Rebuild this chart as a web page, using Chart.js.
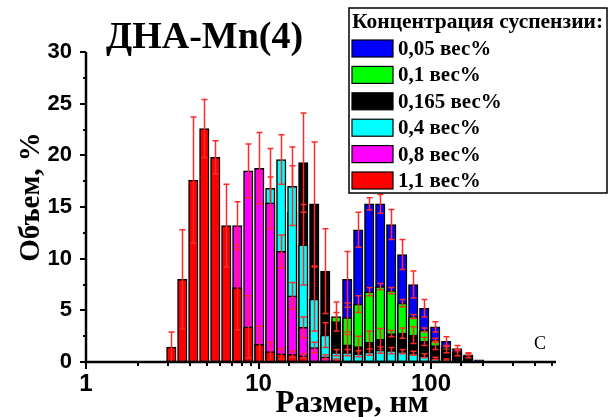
<!DOCTYPE html>
<html>
<head>
<meta charset="utf-8">
<script src="https://cdn.jsdelivr.net/npm/chart.js@4/dist/chart.umd.min.js"></script>
<style>
  html, body { margin: 0; padding: 0; background: #fff; }
</style>
</head>
<body>
<canvas id="sizeChart" width="613" height="417"></canvas>
<script>
// DLS size bins, nm
var sizes = [3.122, 3.615, 4.187, 4.849, 5.615, 6.503, 7.531, 8.721, 10.1, 11.7,
             13.54, 15.69, 18.17, 21.04, 24.36, 28.21, 32.67, 37.84, 43.82, 50.75,
             58.77, 68.06, 78.82, 91.28, 105.7, 122.4, 141.8, 164.2, 190.1];

// volume, % (null = no bar)
var vol005 = [null, null, null, null, null, null, null, null, null, null,
              null, null, null, null, null, null, 8.0, 12.8, 15.3, 15.3,
              13.3, 10.4, 7.5, 5.2, 3.4, 2.0, 1.3, 0.7, 0.2];
var err005 = [0, 0, 0, 0, 0, 0, 0, 0, 0, 0,
              0, 0, 0, 0, 0, 0, 2.7, 1.7, 0.6, 0.9,
              1.45, 1.45, 1.3, 0.85, 0.5, 0.45, 0.3, 0.2, 0];

var vol01 = [null, null, null, null, null, null, null, null, null, null,
             null, null, null, null, null, 4.4, 4.3, 5.6, 6.8, 7.3,
             6.9, 5.7, 4.4, 3.1, 2.1, 1.4, 1.0, 0.5, null];
var err01 = [0, 0, 0, 0, 0, 0, 0, 0, 0, 0,
             0, 0, 0, 0, 0, 1.4, 1.4, 0.8, 0.4, 0.3,
             0.3, 0.35, 0.2, 0.2, 0.2, 0.2, 0.15, 0.1, 0];

var vol0165 = [null, null, null, null, null, null, null, null, null, null,
               null, 14.5, 19.3, 15.3, 8.8, 3.9, 1.65, 1.5, 1.9, 2.2,
               2.75, 2.8, 2.6, 2.0, 1.6, 1.2, 0.9, 0.6, null];
var err0165 = [0, 0, 0, 0, 0, 0, 0, 0, 0, 0,
               0, 4.5, 4.8, 6.0, 4.1, 0.9, 1.0, 1.0, 1.1, 1.05,
               0.3, 0.5, 0.8, 0.4, 0.4, 0.3, 0.3, 0.2, 0];

var vol04 = [null, null, null, null, null, null, null, null, null, 16.8,
             19.6, 17.0, 11.35, 6.1, 2.6, 0.9, 0.9, 0.8, 0.95, 1.15,
             1.1, 1.0, 0.85, 0.6, 0.35, 0.2, null, null, null];
var err04 = [0, 0, 0, 0, 0, 0, 0, 0, 0, 3.85,
             2.4, 3.8, 3.9, 3.1, 1.2, 0.3, 0.3, 0.3, 0.3, 0.3,
             0.3, 0.2, 0.2, 0.2, 0.1, 0.1, 0, 0, 0];

var vol08 = [null, null, null, null, null, null, 13.2, 18.5, 18.75, 15.4,
             10.7, 6.4, 3.35, 1.4, 0.5, 0.2, null, null, null, null,
             null, null, null, null, null, null, null, null, null];
var err08 = [0, 0, 0, 0, 0, 0, 2.3, 2.6, 3.45, 2.5,
             1.6, 1.3, 1.0, 0.5, 0.2, 0.1, 0, 0, 0, 0,
             0, 0, 0, 0, 0, 0, 0, 0, 0];

var vol11 = [1.45, 8.0, 17.6, 22.6, 19.8, 13.2, 7.2, 3.4, 1.7, 1.0,
             0.8, 0.75, 0.6, null, null, null, null, null, null, null,
             null, null, null, null, null, null, null, null, null];
var err11 = [1.45, 4.8, 6.1, 2.8, 1.6, 4.0, 4.1, 3.0, 1.75, 0.9,
             0.5, 0.3, 0.2, 0, 0, 0, 0, 0, 0, 0,
             0, 0, 0, 0, 0, 0, 0, 0, 0];

var seriesLabels = ['0,05 вес%', '0,1 вес%', '0,165 вес%', '0,4 вес%', '0,8 вес%', '1,1 вес%'];
var seriesColors = ['#0000ff', '#00ff00', '#000000', '#00ffff', '#ff00ff', '#ff0000'];
var seriesValues = [vol005, vol01, vol0165, vol04, vol08, vol11];
var seriesErrors = [err005, err01, err0165, err04, err08, err11];

var yMajor = [0, 5, 10, 15, 20, 25, 30];
var xMajor = [1, 10, 100];

var serif = '"Liberation Serif", "Times New Roman", serif';
var sans = '"Liberation Sans", Arial, sans-serif';

var datasets = seriesValues.map(function (vals, k) {
  return {
    label: seriesLabels[k],
    data: sizes.map(function (s, i) { return { x: s, y: vals[i] }; }),
    errors: seriesErrors[k],
    backgroundColor: seriesColors[k],
    borderColor: '#000',
    borderWidth: 1.5,
    borderSkipped: false,
    grouped: false,
    order: seriesValues.length - 1 - k,   // 1,1 % in front, 0,05 % at the back
    barThickness: 9.5
  };
});

// red error bars, drawn right after their own series
var errorBars = {
  id: 'errorBars',
  afterDatasetDraw: function (chart, args) {
    var ds = chart.data.datasets[args.index];
    var yScale = chart.scales.y;
    var ctx = chart.ctx;
    ctx.save();
    ctx.strokeStyle = '#ff2a2a';
    ctx.lineWidth = 1.5;
    args.meta.data.forEach(function (bar, i) {
      var v = ds.data[i].y;
      var e = ds.errors[i];
      if (v == null || !e) return;
      var x = Math.round(bar.x) + 0.5;
      var top = yScale.getPixelForValue(v + e);
      var bot = yScale.getPixelForValue(Math.max(v - e, 0));
      ctx.beginPath();
      ctx.moveTo(x, top); ctx.lineTo(x, bot);
      ctx.moveTo(x - 3, top); ctx.lineTo(x + 3, top);
      ctx.moveTo(x - 3, bot); ctx.lineTo(x + 3, bot);
      ctx.stroke();
    });
    ctx.restore();
  }
};

// axis lines, tick marks, titles and the boxed legend
var decorations = {
  id: 'decorations',
  afterDraw: function (chart) {
    var ctx = chart.ctx;
    var a = chart.chartArea;
    var xs = chart.scales.x, ys = chart.scales.y;
    ctx.save();
    ctx.strokeStyle = '#000';
    ctx.lineWidth = 2.5;
    ctx.beginPath();
    ctx.moveTo(a.left, a.top); ctx.lineTo(a.left, a.bottom); ctx.lineTo(a.right, a.bottom);
    ctx.stroke();

    ctx.lineWidth = 2;
    ctx.beginPath();
    for (var v = 0; v <= 30; v += 2.5) {
      var py = Math.round(ys.getPixelForValue(v));
      var len = yMajor.indexOf(v) >= 0 ? 6 : 3;
      ctx.moveTo(a.left, py); ctx.lineTo(a.left - len, py);
    }
    xs.ticks.forEach(function (t) {
      if (t.value >= xs.max) return;
      var px = Math.round(xs.getPixelForValue(t.value));
      var len = xMajor.indexOf(t.value) >= 0 ? 7 : 4;
      ctx.moveTo(px, a.bottom); ctx.lineTo(px, a.bottom + len);
    });
    ctx.stroke();

    ctx.fillStyle = '#000';
    ctx.textBaseline = 'alphabetic';
    ctx.textAlign = 'left';
    ctx.font = 'bold 38px ' + serif;
    ctx.fillText('ДНА-Mn(4)', 106, 48);

    ctx.textAlign = 'center';
    ctx.font = 'bold 31px ' + serif;
    ctx.fillText('Размер, нм', 352, 412);
    ctx.font = 'bold 29px ' + serif;
    ctx.save();
    ctx.translate(39, 197);
    ctx.rotate(-Math.PI / 2);
    ctx.fillText('Объем, %', 0, 0);
    ctx.restore();

    ctx.font = '18px ' + serif;
    ctx.fillText('C', 540, 349);

    // legend box
    var lx = 349, ly = 8, lw = 258, lh = 185;
    ctx.fillStyle = '#fff';
    ctx.fillRect(lx, ly, lw, lh);
    ctx.lineWidth = 1.5;
    ctx.strokeRect(lx, ly, lw, lh);
    ctx.fillStyle = '#000';
    ctx.textAlign = 'left';
    ctx.font = 'bold 21.5px ' + serif;
    ctx.fillText('Концентрация суспензии:', 352, 28);
    ctx.font = 'bold 21px ' + serif;
    chart.data.datasets.forEach(function (ds, k) {
      var cy = 48 + k * 26.4;
      ctx.fillStyle = ds.backgroundColor;
      ctx.fillRect(352, cy - 8, 41, 17);
      ctx.lineWidth = 1.2;
      ctx.strokeRect(352, cy - 8, 41, 17);
      ctx.fillStyle = '#000';
      ctx.fillText(ds.label, 398, cy + 7);
    });
    ctx.restore();
  }
};

new Chart(document.getElementById('sizeChart'), {
  type: 'bar',
  data: { datasets: datasets },
  plugins: [errorBars, decorations],
  options: {
    responsive: false,
    animation: false,
    layout: { padding: { top: 52, right: 57, left: 0, bottom: 0 } },
    plugins: { legend: { display: false }, tooltip: { enabled: false } },
    scales: {
      x: {
        type: 'logarithmic',
        min: 1,
        max: 530,
        grid: { display: false, drawTicks: false },
        border: { display: false },
        afterFit: function (s) { s.height = 55; },
        ticks: {
          autoSkip: false,
          maxRotation: 0,
          padding: 8,
          color: '#000',
          font: { family: sans, size: 24, weight: 'bold' },
          callback: function (v) { return xMajor.indexOf(v) >= 0 ? String(v) : ''; }
        }
      },
      y: {
        min: 0,
        max: 30,
        grid: { display: false, drawTicks: false },
        border: { display: false },
        afterFit: function (s) { s.width = 86; },
        ticks: {
          stepSize: 5,
          padding: 14,
          color: '#000',
          font: { family: sans, size: 22, weight: 'bold' }
        }
      }
    }
  }
});
</script>
</body>
</html>
